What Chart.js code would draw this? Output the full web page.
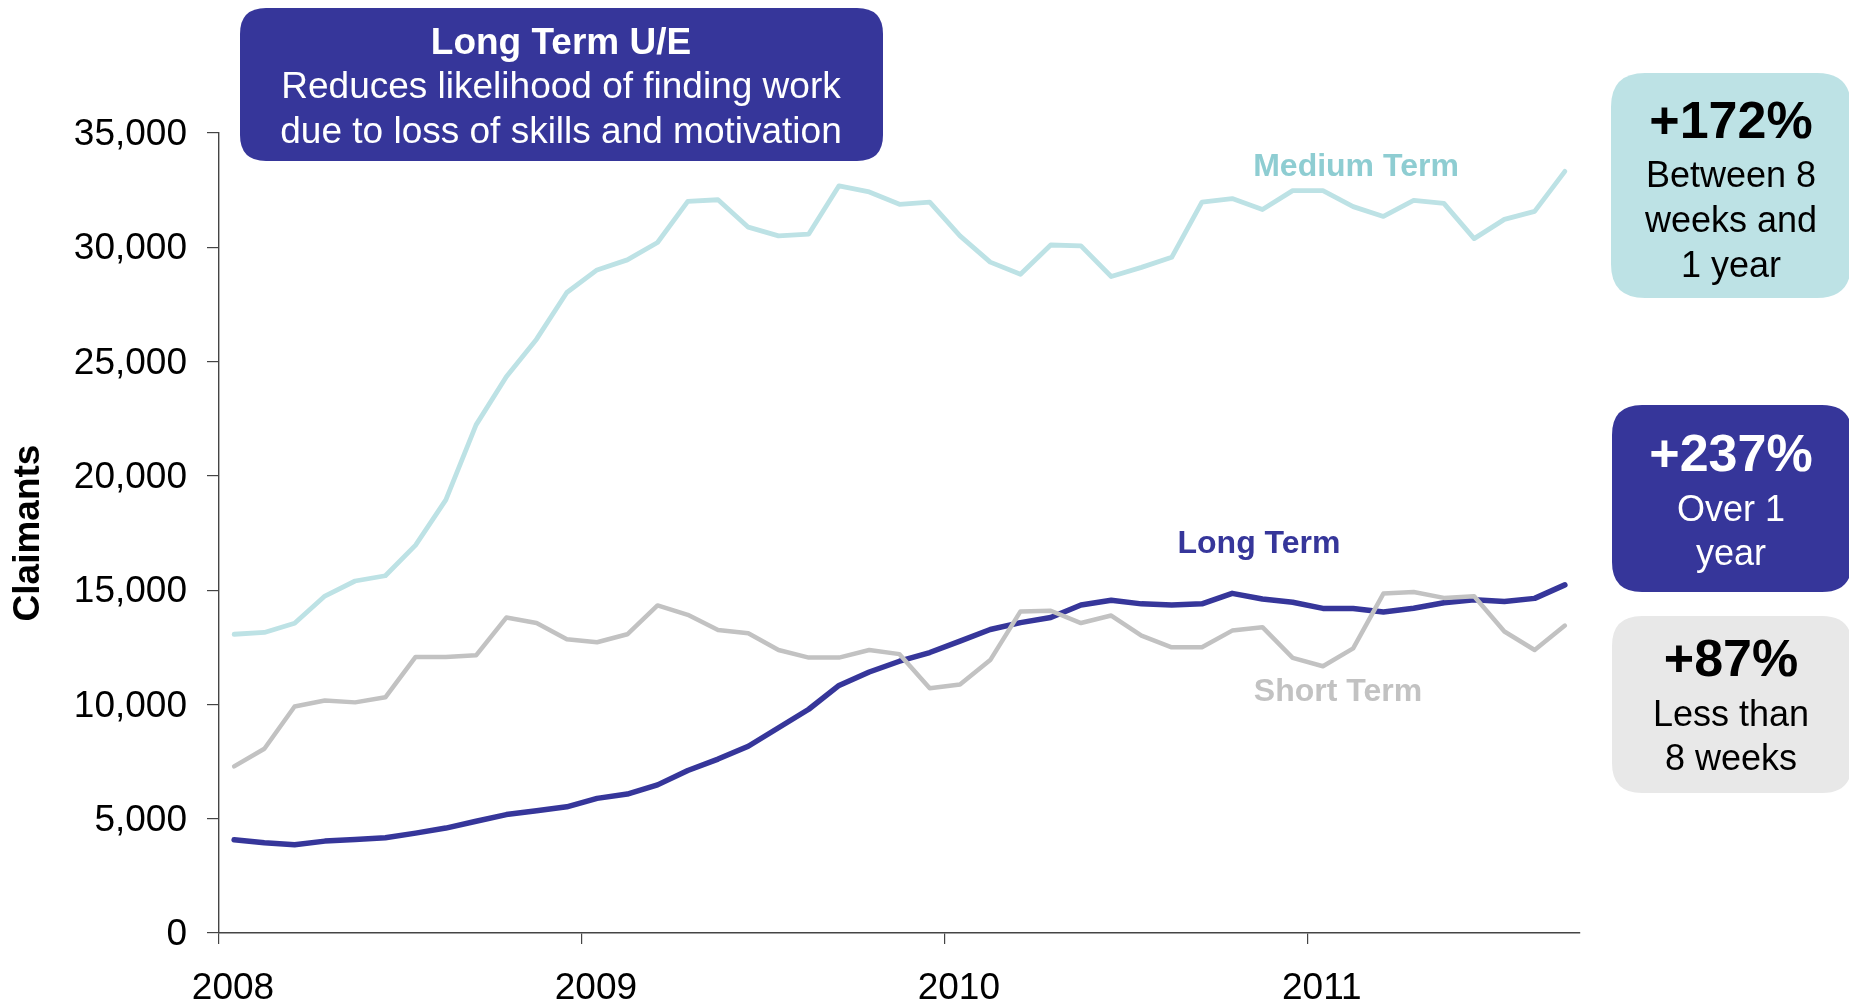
<!DOCTYPE html>
<html>
<head>
<meta charset="utf-8">
<script src="https://cdn.jsdelivr.net/npm/chart.js@4/dist/chart.umd.min.js"></script>
<style>
html,body{margin:0;padding:0;background:#fff;overflow:hidden}
#wrap{position:relative;width:1849px;height:1005px}
</style>
</head>
<body>
<div id="wrap"><canvas id="c" width="1849" height="1005"></canvas></div>
<script>
// ---- data ----
const months = [
  'Jan 2008','Feb 2008','Mar 2008','Apr 2008','May 2008','Jun 2008','Jul 2008','Aug 2008','Sep 2008','Oct 2008','Nov 2008','Dec 2008',
  'Jan 2009','Feb 2009','Mar 2009','Apr 2009','May 2009','Jun 2009','Jul 2009','Aug 2009','Sep 2009','Oct 2009','Nov 2009','Dec 2009',
  'Jan 2010','Feb 2010','Mar 2010','Apr 2010','May 2010','Jun 2010','Jul 2010','Aug 2010','Sep 2010','Oct 2010','Nov 2010','Dec 2010',
  'Jan 2011','Feb 2011','Mar 2011','Apr 2011','May 2011','Jun 2011','Jul 2011','Aug 2011','Sep 2011'
];
const mediumTerm = [13070,13150,13550,14740,15400,15630,16970,18950,22230,24340,25980,28020,
  29010,29450,30210,32010,32080,30880,30500,30580,32690,32420,31880,31980,
  30500,29350,28820,30100,30060,28720,29120,29560,31980,32130,31650,32480,
  32480,31780,31350,32050,31920,30380,31220,31570,33320];
const longTerm = [4080,3950,3860,4020,4090,4170,4370,4590,4890,5180,5350,5520,
  5890,6080,6480,7110,7610,8170,8980,9790,10830,11420,11890,12270,
  12770,13280,13580,13800,14350,14560,14400,14350,14400,14860,14610,14470,
  14200,14200,14040,14210,14450,14580,14500,14640,15230];
const shortTerm = [7290,8060,9910,10170,10090,10310,12080,12080,12150,13800,13560,12850,
  12720,13070,14330,13920,13260,13110,12380,12050,12050,12380,12200,10710,
  10870,11940,14070,14100,13560,13890,13010,12500,12500,13230,13380,12040,
  11670,12450,14850,14920,14660,14730,13190,12380,13450];
const yearLabels = ['2008','2009','2010','2011'];
const yearTickIndex = [0,12,24,36];
const yMin = 0, yMax = 35000, yStep = 5000;

// ---- styles ----
const FONT = "'Liberation Sans', Arial, Helvetica, sans-serif";
const BLUE = '#36369a';
const TEAL = '#bde2e5';
const TEAL_TXT = '#8ecdd2';
const GREY = '#c2c2c2';
const LIGHT = '#e8e8e8';
const AXIS = '#444';

const pts = arr => arr.map((v,i) => ({x: i + 0.5, y: v}));

function rrect(ctx, x, y, w, h, r){
  ctx.beginPath();
  ctx.moveTo(x+r, y);
  ctx.lineTo(x+w-r, y);
  ctx.quadraticCurveTo(x+w, y, x+w, y+r);
  ctx.lineTo(x+w, y+h-r);
  ctx.quadraticCurveTo(x+w, y+h, x+w-r, y+h);
  ctx.lineTo(x+r, y+h);
  ctx.quadraticCurveTo(x, y+h, x, y+h-r);
  ctx.lineTo(x, y+r);
  ctx.quadraticCurveTo(x, y, x+r, y);
  ctx.closePath();
}

const annotations = {
  id: 'annotations',
  afterDraw(chart){
    const ctx = chart.ctx;
    ctx.save();
    ctx.textAlign = 'center';
    ctx.textBaseline = 'middle';

    // top-left callout
    ctx.fillStyle = BLUE;
    rrect(ctx, 240, 8, 643, 153, 26);
    ctx.fill();
    ctx.fillStyle = '#fff';
    ctx.font = 'bold 37px ' + FONT;
    ctx.fillText('Long Term U/E', 561, 44);
    ctx.font = '37px ' + FONT;
    ctx.fillText('Reduces likelihood of finding work', 561, 88);
    ctx.fillText('due to loss of skills and motivation', 561, 133);

    // right boxes
    const cx = 1731;
    ctx.fillStyle = TEAL;
    rrect(ctx, 1611, 73, 240, 225, 34); ctx.fill();
    ctx.fillStyle = BLUE;
    rrect(ctx, 1612, 405, 240, 187, 30); ctx.fill();
    ctx.fillStyle = LIGHT;
    rrect(ctx, 1612, 616, 240, 177, 30); ctx.fill();

    ctx.fillStyle = '#000';
    ctx.font = 'bold 52px ' + FONT;
    ctx.fillText('+172%', cx, 124);
    ctx.font = '36px ' + FONT;
    ctx.fillText('Between 8', cx, 177);
    ctx.fillText('weeks and', cx, 222);
    ctx.fillText('1 year', cx, 267);

    ctx.fillStyle = '#fff';
    ctx.font = 'bold 52px ' + FONT;
    ctx.fillText('+237%', cx, 457);
    ctx.font = '36px ' + FONT;
    ctx.fillText('Over 1', cx, 511);
    ctx.fillText('year', cx, 555);

    ctx.fillStyle = '#000';
    ctx.font = 'bold 52px ' + FONT;
    ctx.fillText('+87%', cx, 662);
    ctx.font = '36px ' + FONT;
    ctx.fillText('Less than', cx, 716);
    ctx.fillText('8 weeks', cx, 760);

    // series labels
    ctx.font = 'bold 32px ' + FONT;
    ctx.fillStyle = TEAL_TXT;
    ctx.fillText('Medium Term', 1356, 167);
    ctx.fillStyle = BLUE;
    ctx.fillText('Long Term', 1259, 544);
    ctx.fillStyle = GREY;
    ctx.fillText('Short Term', 1338, 692);
    ctx.restore();
  }
};

new Chart(document.getElementById('c'), {
  type: 'line',
  data: {
    datasets: [
      {label: 'Short Term', data: pts(shortTerm), borderColor: GREY, borderWidth: 4.5},
      {label: 'Long Term', data: pts(longTerm), borderColor: BLUE, borderWidth: 5.5},
      {label: 'Medium Term', data: pts(mediumTerm), borderColor: TEAL, borderWidth: 4.8}
    ]
  },
  options: {
    responsive: false,
    animation: false,
    events: [],
    layout: {padding: {top: 133, right: 269, bottom: 0, left: 0}},
    elements: {
      point: {radius: 0},
      line: {tension: 0, fill: false, borderJoinStyle: 'round', borderCapStyle: 'round'}
    },
    plugins: {legend: {display: false}, tooltip: {enabled: false}, title: {display: false}},
    scales: {
      x: {
        type: 'linear', position: 'bottom', min: 0, max: months.length,
        afterBuildTicks: s => { s.ticks = yearTickIndex.map(v => ({value: v})); },
        afterFit: s => { s.height = 72; },
        grid: {display: true, drawOnChartArea: false, drawTicks: true, tickLength: 11, color: AXIS, lineWidth: 1.2},
        border: {display: true, color: AXIS, width: 1.4},
        ticks: {
          autoSkip: false, maxRotation: 0, minRotation: 0,
          labelOffset: 14, padding: 23,
          color: '#000', font: {size: 37, family: FONT},
          callback: v => yearLabels[yearTickIndex.indexOf(v)]
        }
      },
      y: {
        min: yMin, max: yMax,
        afterFit: s => { s.width = 219; },
        grid: {display: true, drawOnChartArea: false, drawTicks: true, tickLength: 12, color: AXIS, lineWidth: 1.2},
        border: {display: true, color: AXIS, width: 1.4},
        ticks: {
          stepSize: yStep, padding: 20, color: '#000', labelOffset: 2,
          font: {size: 37, family: FONT},
          callback: v => v.toLocaleString('en-US')
        },
        title: {
          display: true, text: 'Claimants', color: '#000',
          font: {size: 37, weight: 'bold', family: FONT},
          padding: {top: 7, bottom: 0}
        }
      }
    }
  },
  plugins: [annotations]
});
</script>
</body>
</html>
